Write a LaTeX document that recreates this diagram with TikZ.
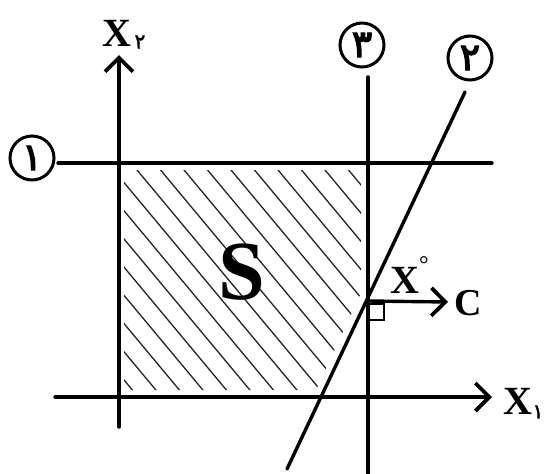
\documentclass[tikz,border=0pt]{standalone}
\usepackage{fontspec}
\setmainfont{Liberation Serif}
\newfontfamily\pfont[Script=Arabic,FakeBold=3.5]{DejaVu Sans}
\newfontfamily\pfontsub[Script=Arabic,FakeBold=2]{DejaVu Sans}
\usetikzlibrary{arrows.meta}
\begin{document}
\begin{tikzpicture}[x=1pt,y=-1pt,
  mainline/.style={line width=3.4pt,line cap=round},
  barb/.style={-{Straight Barb[length=14pt,width=28pt,line width=3.8pt]}},
  hatchline/.style={line width=1.3pt,black!85},
  circlabel/.style={circle,draw,line width=3pt,minimum size=44pt,inner sep=0pt,
    font=\pfont\fontsize{38}{38}\selectfont},
  axlabel/.style={inner sep=0pt,font=\bfseries\fontsize{40}{40}\selectfont},
  sublabel/.style={inner sep=0pt,font=\pfontsub\fontsize{20}{20}\selectfont}
]
\useasboundingbox (0,0) rectangle (544,474);

% coordinates
\coordinate (x2bot) at (119,427);
\coordinate (x2top) at (119,55);
\coordinate (x1left) at (55,397);
\coordinate (x1right) at (492,397);
\coordinate (l1left) at (58,163);
\coordinate (l1right) at (492,163);
\coordinate (l3top) at (368,77);
\coordinate (l3bot) at (368,474);
\coordinate (l2top) at (465,92);
\coordinate (l2bot) at (287,469);
\coordinate (X0) at (368,301);
\coordinate (ctip) at (448,302);

% hatching
\begin{scope}
  \clip (124,170) -- (361,170) -- (361,293) -- (316,390) -- (124,390) -- cycle;
  \foreach \i in {-10,...,11}
    \draw[hatchline] ({128.7+23.5*\i},160) -- ++(250,300);
\end{scope}

% lines
\draw[mainline] (l1left) -- (l1right);
\draw[mainline] (l3top) -- (l3bot);
\draw[mainline] (l2top) -- (l2bot);
\draw[mainline,barb] (x2bot) -- (x2top);
\draw[mainline,barb] (x1left) -- (x1right);
\draw[mainline,barb] (X0) -- (ctip);

% right angle mark
\draw[line width=2.2pt] (369,304) rectangle (384,320);

% circled labels
\node[circlabel] (c1) at (32,158) {۱};
\node[circlabel] (c3) at (362,45) {۳};
\node[circlabel] (c2) at (470,58) {۲};

% labels
\node[axlabel] (lx2) at (117,33) {X};
\node[sublabel] (lx2s) at (140,42) {۲};
\node[axlabel] (lx1) at (518,401) {X};
\node[sublabel] (lx1s) at (538,412) {۱};
\node[axlabel] (lx0) at (405,280) {X};
\node[inner sep=0pt,font=\fontsize{24}{24}\selectfont] (deg) at (424,265) {°};
\node[axlabel,font=\bfseries\fontsize{38}{38}\selectfont] (lc) at (468,303) {C};
\node[inner sep=0pt,font=\bfseries\fontsize{84}{84}\selectfont] (S) at (242,272) {S};
\end{tikzpicture}
\end{document}
